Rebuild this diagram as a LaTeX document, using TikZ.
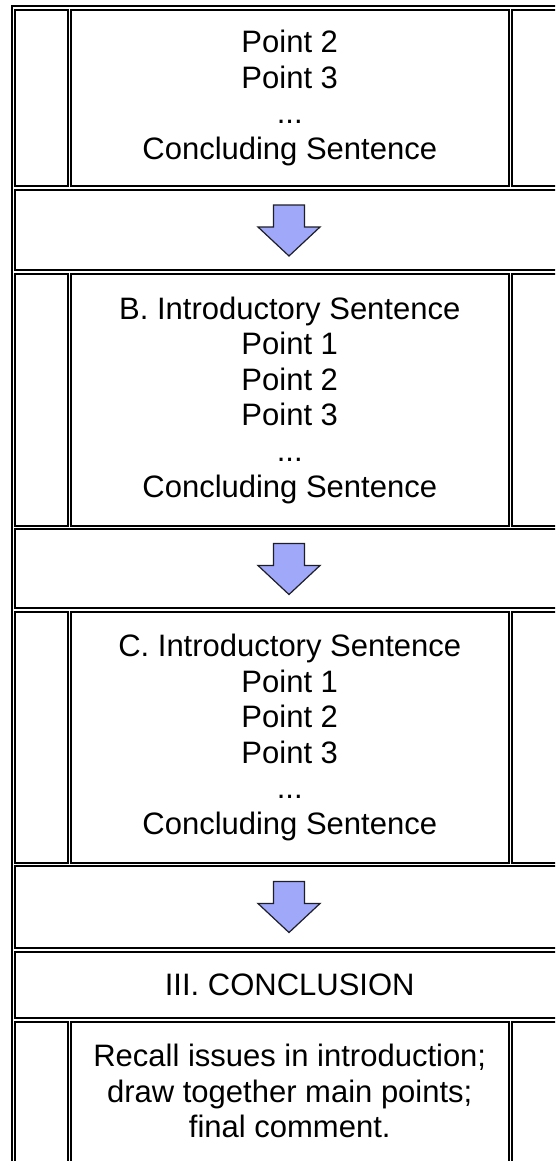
\documentclass[tikz,border=0pt]{standalone}
\usepackage{fontspec}
\setmainfont{Liberation Sans}
\definecolor{arrowfill}{RGB}{160,168,250}
\definecolor{arrowline}{RGB}{30,30,40}
\tikzset{
  cellbox/.style={draw=black, line width=2pt},
  celltext/.style={align=center, inner sep=0pt, font=\fontsize{31}{35.6}\selectfont},
  blockarrow/.pic={
    \path[fill=arrowfill, draw=arrowline, line width=1.2pt, line join=miter]
      (-15.5,-25) -- (15.5,-25) -- (15.5,-3) -- (31,-3) -- (0,26)
      -- (-31,-3) -- (-15.5,-3) -- cycle;
  }
}
\begin{document}
\begin{tikzpicture}[x=1pt, y=-1pt]
  \useasboundingbox (0,0) rectangle (555,1161);
  \clip (0,0) rectangle (555,1161);
  \fill[white] (0,0) rectangle (555,1161);

  % outer table frame
  \draw[cellbox] (12,1200) -- (12,6) -- (600,6);

  % three-column rows
  \foreach \t/\b in {10/186.5, 274/526, 612/863, 1022/1200} {
    \draw[cellbox] (15,\t) rectangle (68,\b);
    \draw[cellbox] (71,\t) rectangle (508.5,\b);
    \draw[cellbox] (511.5,\t) rectangle (600,\b);
  }
  % full-width rows
  \foreach \t/\b in {190/270, 529/608, 866/947.5, 952/1018} {
    \draw[cellbox] (15,\t) rectangle (600,\b);
  }

  % arrows between sections
  \pic at (289,230) {blockarrow};
  \pic at (289,568.5) {blockarrow};
  \pic at (289,906.5) {blockarrow};

  % cell texts
  \node[celltext] (secA) at (289.75,98) {Point 2\\Point 3\\...\\Concluding Sentence};
  \node[celltext] (secB) at (289.75,400) {B. Introductory Sentence\\Point 1\\Point 2\\Point 3\\...\\Concluding Sentence};
  \node[celltext] (secC) at (289.75,737.5) {C. Introductory Sentence\\Point 1\\Point 2\\Point 3\\...\\Concluding Sentence};
  \node[celltext] (concl) at (289.75,985) {III. CONCLUSION};
  \node[celltext, anchor=north] (summary) at (289.75,1044) {Recall issues in introduction;\\draw together main points;\\final comment.};
\end{tikzpicture}
\end{document}
